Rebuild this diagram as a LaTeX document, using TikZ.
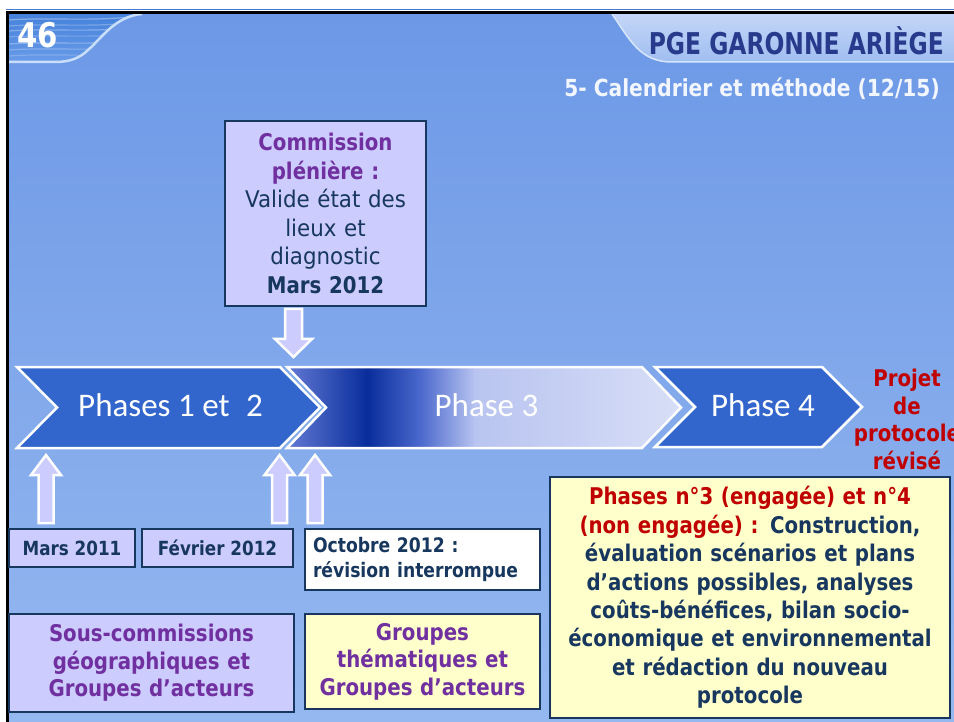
\documentclass[tikz,border=0pt]{standalone}
\usepackage{fontspec}
\setmainfont{DejaVu Sans}
\newfontfamily\tah[FakeStretch=0.86]{DejaVu Sans}
\newfontfamily\tahr[FakeStretch=0.93]{DejaVu Sans}
\newfontfamily\hdr[FakeStretch=0.78]{DejaVu Sans}
\newfontfamily\carlitofont{Carlito}
\definecolor{navy}{RGB}{23,55,94}
\definecolor{hdrblue}{RGB}{40,58,140}
\definecolor{lav}{RGB}{204,204,255}
\definecolor{lyel}{RGB}{255,255,204}
\definecolor{purp}{RGB}{112,48,160}
\definecolor{dred}{RGB}{192,0,0}
\definecolor{chev}{RGB}{51,102,204}
\definecolor{bgtop}{RGB}{108,152,230}
\definecolor{bgbot}{RGB}{150,184,240}
\definecolor{c3a}{RGB}{100,122,212}
\definecolor{c3b}{RGB}{8,45,155}
\definecolor{c3c}{RGB}{75,105,205}
\definecolor{c3d}{RGB}{185,196,240}
\definecolor{c3e}{RGB}{216,223,247}
\definecolor{tabtop}{RGB}{196,214,248}
\definecolor{tabbot}{RGB}{160,190,240}
\definecolor{wavea}{RGB}{70,130,220}
\definecolor{waveb}{RGB}{105,155,232}
\begin{document}
\begin{tikzpicture}[x=1pt,y=-1pt,
  box/.style={draw=navy, line width=2.5pt, inner sep=0pt, align=center},
  bf/.style={font={\tah\bfseries\fontsize{#1}{24}\selectfont}},
  chevshape/.style={draw=white, line width=2.5pt, fill=chev},
  blockarr/.style={draw=white, line width=2.5pt, fill=lav, line join=miter},
  phasetxt/.style={text=white, font={\carlitofont\fontsize{33}{40}\selectfont}, inner sep=0pt}
]
\useasboundingbox (0,0) rectangle (954,722);
\fill[white] (0,0) rectangle (954,722);
% slide background
\shade[top color=bgtop, bottom color=bgbot] (7.5,12.5) rectangle (954,722);
% left header wave
\begin{scope}
\clip (9,14) -- (142,14) .. controls (115,16) and (100,40) .. (88,50) .. controls (80,58) and (70,62) .. (55,62) -- (9,62) -- cycle;
\shade[top color=wavea, bottom color=waveb] (9,14) rectangle (145,63);
\foreach \yy/\op in {20/.35,26/.25,31/.3,37/.2,44/.3,50/.25,56/.2}{
  \draw[white, opacity=\op, line width=1.2pt] (9,\yy) .. controls (50,\yy-3) and (90,\yy+2) .. (140,\yy-4);
}
\end{scope}
\draw[color={rgb,255:red,200;green,222;blue,250}, line width=2.5pt] (9,62) -- (55,62) .. controls (70,62) and (80,58) .. (88,50) .. controls (100,40) and (115,16) .. (142,14);
% right header tab
\shade[top color=tabtop, bottom color=tabbot] (612,14) .. controls (630,40) and (640,62) .. (672,62) -- (954,62) -- (954,14) -- cycle;
\draw[color={rgb,255:red,215;green,230;blue,252}, line width=1.5pt] (612,14) .. controls (630,40) and (640,62) .. (672,62) -- (954,62);
% frame
\draw[color={rgb,255:red,70;green,120;blue,210}, line width=1pt] (6,10) -- (954,10);
\draw[black, line width=3pt] (7.5,722) -- (7.5,12.5) -- (954,12.5);
% header texts
\node[anchor=base west, inner sep=0pt, text=white, font={\tah\bfseries\fontsize{34}{40}\selectfont}] (num) at (17,48) {46};
\node[anchor=base east, inner sep=0pt, text=hdrblue, font={\hdr\bfseries\fontsize{30}{36}\selectfont}] (title) at (944,55) {PGE GARONNE ARIÈGE};
\node[anchor=base east, inner sep=0pt, text={rgb,255:red,242;green,246;blue,255}, bf=23.5] (sub) at (940,97) {5- Calendrier et méthode (12/15)};
% chevrons
\draw[chevshape] (17,367) -- (280,367) -- (320,407.5) -- (280,448) -- (17,448) -- (57,407.5) -- cycle;
\begin{scope}
\clip (287,367) -- (642,367) -- (681,407.5) -- (642,448) -- (287,448) -- (326,407.5) -- cycle;
\shade[left color=c3a, right color=c3b] (286,366) rectangle (367.5,449);
\shade[left color=c3b, right color=c3c] (367,366) rectangle (420.5,449);
\shade[left color=c3c, right color=c3d] (420,366) rectangle (475.5,449);
\shade[left color=c3d, right color=c3e] (475,366) rectangle (682,449);
\end{scope}
\draw[draw=white, line width=2.5pt] (287,367) -- (642,367) -- (681,407.5) -- (642,448) -- (287,448) -- (326,407.5) -- cycle;
\draw[chevshape] (655,367) -- (822,367) -- (862,407) -- (822,447) -- (655,447) -- (695,407) -- cycle;
\node[phasetxt] (p1) at (170.5,405) {Phases 1 et\enspace 2};
\node[phasetxt] (p3) at (486.5,405) {Phase 3};
\node[phasetxt] (p4) at (763,405) {Phase 4};
% result text
\node[anchor=north, inner sep=0pt, text=dred, align=center, font={\tah\bfseries\fontsize{23}{27.5}\selectfont}] (proj) at (907,369) {Projet\\de\\protocole\\révisé};
% block arrows
\draw[blockarr] (285,309) -- (302,309) -- (302,339) -- (312,339) -- (293.5,357) -- (275,339) -- (285,339) -- cycle;
\foreach \cx in {46,279.5,315}{
  \draw[blockarr] (\cx-7.5,523) -- (\cx-7.5,475) -- (\cx-15,475) -- (\cx,455) -- (\cx+15,475) -- (\cx+7.5,475) -- (\cx+7.5,523) -- cycle;
}
% boxes
\node[box, fill=lav, minimum width=201pt, minimum height=185pt, text width=190pt, font={\tah\bfseries\fontsize{23}{28.6}\selectfont}] (comm) at (325.5,213.5)
  {\textcolor{purp}{Commission}\\\textcolor{purp}{plénière :}\\{\color{navy}\tahr\mdseries Valide état des\\lieux et\\diagnostic}\\\textcolor{navy}{Mars 2012}};
\node[box, fill=lav, minimum width=126pt, minimum height=38pt, text=navy, bf=19.5] (m11) at (72,548) {Mars 2011};
\node[box, fill=lav, minimum width=151pt, minimum height=38pt, text=navy, bf=19.5] (f12) at (217.5,548) {Février 2012};
\node[box, fill=white, minimum width=235pt, minimum height=61pt, text width=219pt, align=left, text=navy, font={\tah\bfseries\fontsize{20}{24.5}\selectfont}] (o12) at (422.5,559.5) {Octobre 2012 :\\révision interrompue};
\node[box, fill=lav, minimum width=285pt, minimum height=98pt, text width=275pt, text=purp, font={\tah\bfseries\fontsize{23}{27.5}\selectfont}] (sous) at (151.5,663) {Sous-commissions\\géographiques et\\Groupes d’acteurs};
\node[box, fill=lyel, minimum width=235pt, minimum height=95pt, text width=225pt, text=purp, font={\tah\bfseries\fontsize{23}{27.5}\selectfont}] (gth) at (422.5,661.5) {Groupes\\thématiques et\\Groupes d’acteurs};
\node[box, fill=lyel, minimum width=400pt, minimum height=241pt, text width=390pt, text=navy, font={\tah\bfseries\fontsize{23}{28.4}\selectfont}] (rb) at (750,597.5)
  {\textcolor{dred}{Phases n°3 (engagée) et n°4}\\\textcolor{dred}{(non engagée) :} Construction,\\évaluation scénarios et plans\\d’actions possibles, analyses\\coûts-bénéfices, bilan socio-\\économique et environnemental\\et rédaction du nouveau\\protocole};
\end{tikzpicture}
\end{document}
